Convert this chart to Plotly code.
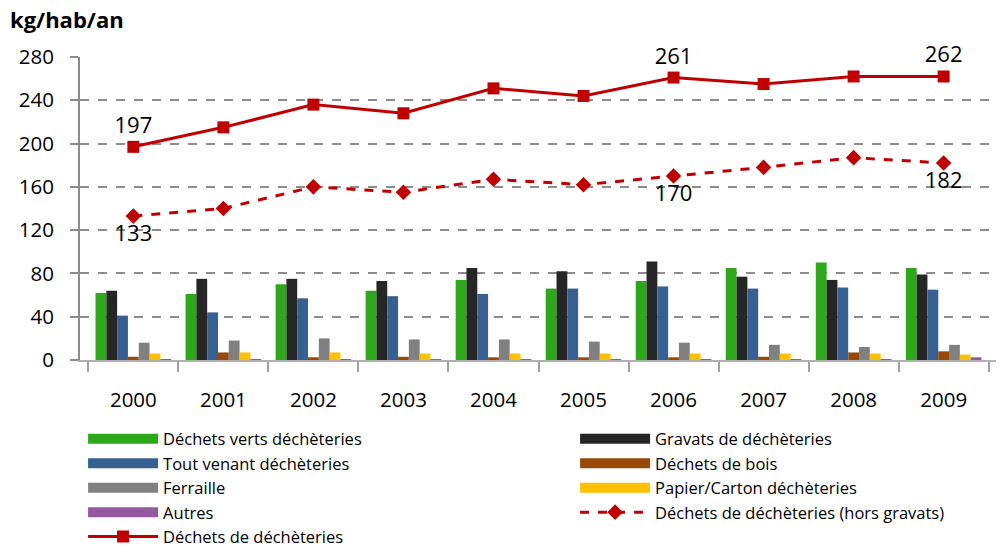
import plotly.graph_objects as go

years = ["2000", "2001", "2002", "2003", "2004", "2005", "2006", "2007", "2008", "2009"]
verts = [62, 61, 70, 64, 74, 66, 73, 85, 90, 85]
gravats = [64, 75, 75, 73, 85, 82, 91, 77, 74, 79]
tout_venant = [41, 44, 57, 59, 61, 66, 68, 66, 67, 65]
bois = [3, 7, 2.5, 3, 2.5, 2.5, 2.5, 3, 7, 8]
ferraille = [16, 18, 20, 19, 19, 17, 16, 14, 12, 14]
papier = [6, 7, 7, 6, 6, 6, 6, 6, 6, 5]
autres = [0.6, 0.6, 0.6, 0.6, 0.6, 0.6, 0.6, 0.6, 0.6, 2.5]
total = [197, 215, 236, 228, 251, 244, 261, 255, 262, 262]
hors_gravats = [133, 140, 160, 155, 167, 162, 170, 178, 187, 182]
total_labels = ["197", "", "", "", "", "", "261", "", "", "262"]
hors_labels = ["133", "", "", "", "", "", "170", "", "", "182"]

bar_series = [
    ("Déchets verts déchèteries", verts, "#2CA81A"),
    ("Gravats de déchèteries", gravats, "#262626"),
    ("Tout venant déchèteries", tout_venant, "#376092"),
    ("Déchets de bois", bois, "#984807"),
    ("Ferraille", ferraille, "#808080"),
    ("Papier/Carton déchèteries", papier, "#FFC000"),
    ("Autres", autres, "#9558A0"),
]

FONT = "Open Sans"
fig = go.Figure()
for i, (name, vals, col) in enumerate(bar_series):
    fig.add_trace(go.Bar(x=years, y=vals, name=name, marker_color=col,
                         marker_line_width=0, showlegend=False))
    # legend-only wide swatch
    fig.add_trace(go.Scatter(x=[None], y=[None], mode="lines", name=name,
                             line=dict(color=col, width=12), legendrank=i + 1))

fig.add_trace(go.Scatter(x=years, y=hors_gravats, name="Déchets de déchèteries (hors gravats)",
                         mode="lines+markers+text", text=hors_labels, textposition="bottom center",
                         textfont=dict(size=22, color="#000"),
                         line=dict(color="#C00000", width=3, dash="dash"),
                         marker=dict(symbol="diamond", size=12, color="#C00000"),
                         legendrank=8, cliponaxis=False))
fig.add_trace(go.Scatter(x=years, y=total, name="Déchets de déchèteries",
                         mode="lines+markers+text", text=total_labels, textposition="top center",
                         textfont=dict(size=22, color="#000"),
                         line=dict(color="#C00000", width=3),
                         marker=dict(symbol="square", size=12, color="#C00000"),
                         legendrank=9, cliponaxis=False))

fig.update_layout(
    width=996, height=538,
    margin=dict(l=72, r=7, t=49, b=186, autoexpand=False),
    paper_bgcolor="white", plot_bgcolor="white",
    font=dict(family=FONT, size=18, color="#000"),
    barmode="group", bargap=0.16, bargroupgap=0,
    legend=dict(orientation="h", x=-0.001, y=-0.19,
                xanchor="left", yanchor="top",
                borderwidth=4, bordercolor="rgba(255,255,255,0)",
                entrywidth=407, entrywidthmode="pixels",
                font=dict(size=16.5), itemwidth=70, tracegroupgap=0),
    title=dict(text="<b>kg/hab/an</b>", xref="container", yref="container",
               x=0.002, y=0.977, xanchor="left", yanchor="middle",
               font=dict(size=22, family=FONT)),
)
fig.update_yaxes(range=[0, 280], tickvals=[0, 40, 80, 120, 160, 200, 240, 280],
                 showgrid=True, gridcolor="#8C8C8C", gridwidth=2, griddash="dash",
                 showline=True, linecolor="#8C8C8C", linewidth=2,
                 ticks="outside", ticklen=8, tickcolor="#8C8C8C", tickwidth=2,
                 ticklabelstandoff=12,
                 tickfont=dict(size=20.5), zeroline=False)
fig.update_xaxes(type="category", showline=True, linecolor="#B0B0B0", linewidth=2,
                 ticks="outside", tickson="boundaries", ticklen=10, tickcolor="#A0A0A0",
                 tickwidth=2, ticklabelstandoff=20,
                 tickfont=dict(size=20.5), showgrid=False)

fig.write_html("out.html")
